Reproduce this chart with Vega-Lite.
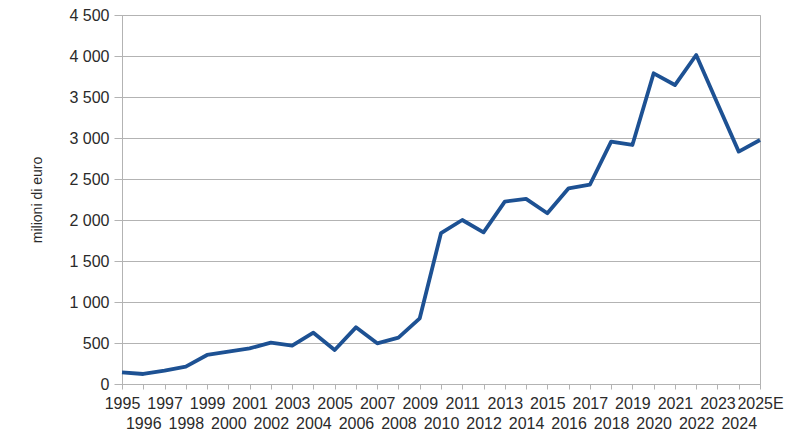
{
  "$schema": "https://vega.github.io/schema/vega-lite/v6.json",
  "width": 638,
  "height": 369,
  "autosize": "none",
  "padding": {"left": 122, "top": 15, "right": 39, "bottom": 62},
  "background": "white",
  "config": {
    "font": "Liberation Sans",
    "view": {"stroke": "#b3b3b3", "strokeWidth": 1}
  },
  "data": {
    "values": [
      {"year": "1995", "value": 143},
      {"year": "1996", "value": 122},
      {"year": "1997", "value": 162},
      {"year": "1998", "value": 211},
      {"year": "1999", "value": 354},
      {"year": "2000", "value": 394},
      {"year": "2001", "value": 435},
      {"year": "2002", "value": 504},
      {"year": "2003", "value": 467},
      {"year": "2004", "value": 626},
      {"year": "2005", "value": 415},
      {"year": "2006", "value": 691},
      {"year": "2007", "value": 496},
      {"year": "2008", "value": 565},
      {"year": "2009", "value": 801},
      {"year": "2010", "value": 1840},
      {"year": "2011", "value": 2000},
      {"year": "2012", "value": 1850},
      {"year": "2013", "value": 2225},
      {"year": "2014", "value": 2257},
      {"year": "2015", "value": 2082},
      {"year": "2016", "value": 2387},
      {"year": "2017", "value": 2430},
      {"year": "2018", "value": 2955},
      {"year": "2019", "value": 2915},
      {"year": "2020", "value": 3789},
      {"year": "2021", "value": 3646},
      {"year": "2022", "value": 4012},
      {"year": "2023", "value": 3420},
      {"year": "2024", "value": 2834},
      {"year": "2025E", "value": 2976}
    ]
  },
  "mark": {"type": "line", "color": "#1d5193", "strokeWidth": 3.8, "strokeJoin": "round", "strokeCap": "butt"},
  "encoding": {
    "x": {
      "field": "year",
      "type": "ordinal",
      "sort": null,
      "scale": {"type": "point", "padding": 0},
      "axis": {
        "title": null,
        "labelAngle": 0,
        "labelFontSize": 16,
        "labelColor": "#2a2a2a",
        "labelLineHeight": 20,
        "labelPadding": 6,
        "labelOverlap": false,
        "labelBaseline": "top",
        "labelExpr": "parseInt(datum.value) % 2 == 0 ? ['', datum.value] : datum.value",
        "tickColor": "#b3b3b3",
        "tickSize": 5,
        "domainColor": "#b3b3b3",
        "grid": false
      }
    },
    "y": {
      "field": "value",
      "type": "quantitative",
      "scale": {"domain": [0, 4500], "nice": false},
      "axis": {
        "title": "milioni di euro",
        "titleFontSize": 14,
        "titleFontWeight": "normal",
        "titleColor": "#2a2a2a",
        "titlePadding": 24,
        "values": [0, 500, 1000, 1500, 2000, 2500, 3000, 3500, 4000, 4500],
        "labelExpr": "replace(format(datum.value, ','), ',', ' ')",
        "labelFontSize": 16,
        "labelColor": "#2a2a2a",
        "labelPadding": 5,
        "tickColor": "#b3b3b3",
        "tickSize": 8,
        "domainColor": "#b3b3b3",
        "gridColor": "#b3b3b3",
        "gridOpacity": 1
      }
    }
  }
}
